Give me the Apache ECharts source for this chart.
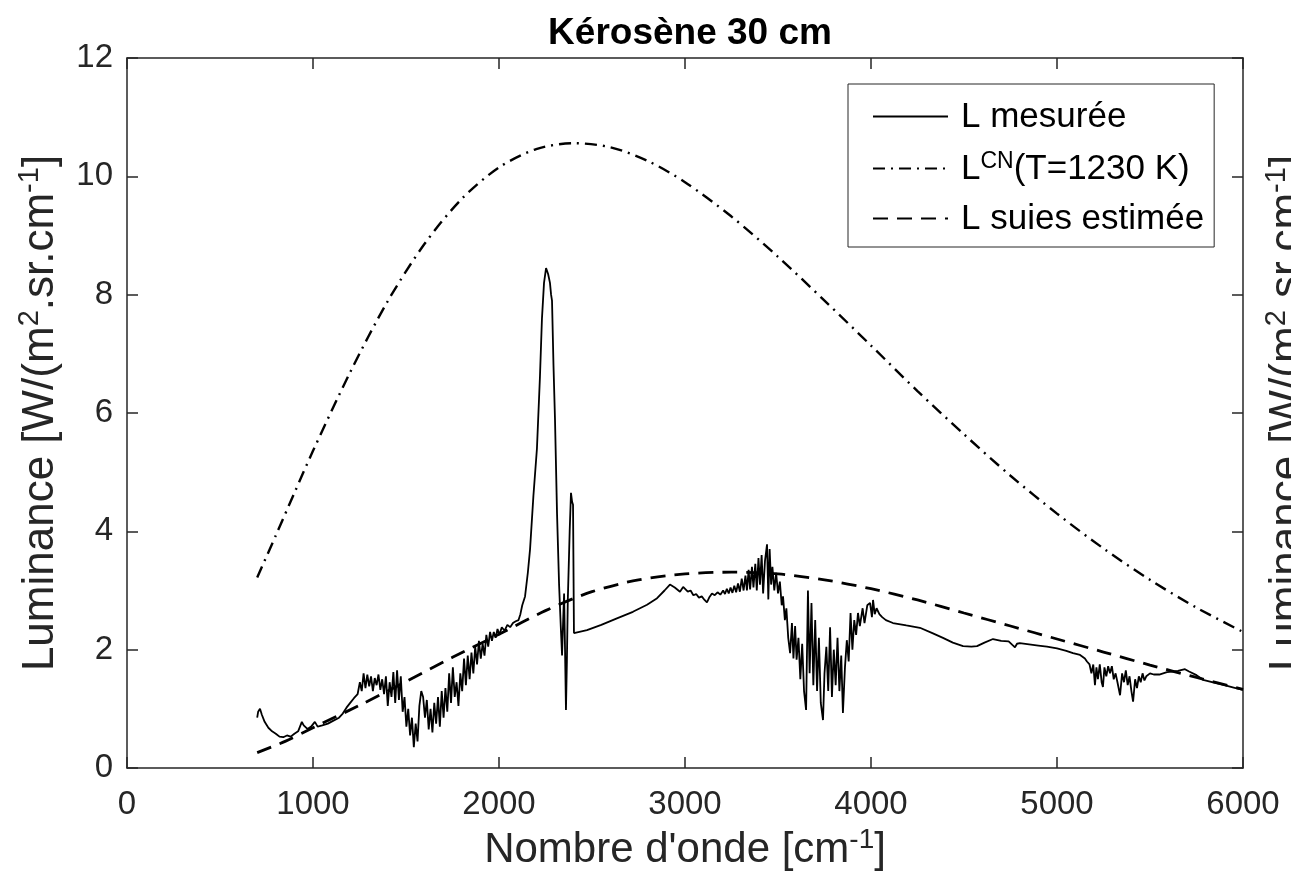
<!DOCTYPE html>
<html>
<head>
    <meta charset="utf-8" />
    <title>Kérosène 30 cm</title>
    <script type="text/javascript" src="https://cdn.jsdelivr.net/npm/echarts@6/dist/echarts.min.js"></script>
    <style>
        html, body { margin: 0; padding: 0; background: #fff; }
    </style>
</head>
<body>
<div id="main" style="width: 1291px;height:895px;"></div>
<script type="text/javascript">
    // axes
    var xTicks = [0, 1000, 2000, 3000, 4000, 5000, 6000];
    var yTicks = [0, 2, 4, 6, 8, 10, 12];

    // L mesurée
    var measuredX = [700, 705, 715, 725, 740, 760, 780, 800, 820, 840, 860, 880, 900, 920, 940, 950, 970, 990, 1010, 1025, 1050, 1080, 1110, 1140, 1160, 1180, 1200, 1220, 1240,
        1252, 1262, 1272, 1282, 1292, 1302, 1312, 1322, 1332, 1342, 1352, 1362, 1372, 1382, 1392, 1402, 1412, 1422, 1432, 1442, 1452, 1462, 1472, 1482, 1492,
        1502, 1512, 1522, 1532, 1542, 1552, 1562, 1572, 1582, 1592, 1602, 1612, 1622, 1632, 1642, 1652, 1662, 1672, 1682, 1692, 1702, 1712, 1722, 1732, 1742,
        1752, 1762, 1772, 1782, 1792, 1802, 1812, 1822, 1832, 1842, 1852, 1862, 1872, 1882, 1892, 1902, 1912, 1922, 1932, 1942, 1952, 1962, 1972, 1982, 1992,
        2002, 2015, 2030, 2045, 2060, 2075, 2090, 2105, 2115,
        2125, 2140, 2155, 2167, 2185, 2204, 2220, 2231, 2242, 2253, 2264, 2274, 2280, 2285, 2293, 2301, 2312, 2323, 2332, 2339, 2345, 2350, 2355, 2360, 2365,
        2370, 2380, 2387, 2393, 2398, 2403, 2473, 2550, 2634, 2720, 2796, 2850, 2890, 2919, 2945, 2973, 2990, 3000, 3015, 3030, 3045, 3060, 3075, 3090, 3105,
        3118, 3130, 3145, 3160, 3175, 3190, 3205, 3215, 3225, 3235, 3245, 3255, 3265, 3275, 3285, 3295, 3305, 3315, 3325, 3333, 3342, 3350, 3360, 3368, 3378,
        3386, 3395, 3403, 3412, 3420, 3430, 3441, 3448, 3455, 3463, 3470, 3480, 3490, 3500, 3510, 3520, 3527, 3537, 3545, 3555, 3565, 3575, 3583, 3592, 3600,
        3610, 3620, 3630, 3640, 3651, 3661, 3670, 3680, 3690, 3700, 3710, 3720, 3730, 3742, 3750, 3760, 3770, 3780, 3790, 3800, 3810, 3820, 3830, 3840, 3849,
        3860, 3870, 3880, 3890, 3900, 3910, 3920, 3930, 3940, 3955, 3965, 3980, 3995, 4005, 4011, 4020, 4030, 4045, 4060, 4080, 4118, 4190, 4263, 4330, 4387,
        4440, 4495, 4540, 4570, 4610, 4656, 4700, 4740, 4760, 4774, 4785, 4800, 4850, 4900, 4946, 5000, 5050, 5086, 5124, 5150, 5161, 5175, 5185, 5195, 5204,
        5212, 5220, 5230, 5240, 5247, 5255, 5265, 5275, 5285, 5295, 5305, 5315, 5325, 5339, 5350, 5360, 5370, 5380, 5390, 5400, 5409, 5420, 5430, 5440, 5450,
        5460, 5470, 5480, 5500, 5520, 5550, 5591, 5620, 5650, 5688, 5710, 5750, 5785, 5850, 5900, 5950, 6000];
    var measuredY = [0.85, 0.95, 1.0, 0.9, 0.78, 0.68, 0.62, 0.58, 0.53, 0.52, 0.55, 0.53, 0.58, 0.62, 0.78, 0.72, 0.66, 0.70, 0.78, 0.70, 0.72, 0.75, 0.80, 0.85, 0.92, 1.02, 1.10, 1.18, 1.25,
        1.45, 1.30, 1.60, 1.35, 1.58, 1.38, 1.55, 1.30, 1.52, 1.40, 1.58, 1.32, 1.50, 1.25, 1.55, 1.05, 1.45, 1.20, 1.62, 1.10, 1.65, 1.15, 1.55, 0.95, 1.20,
        0.70, 1.00, 0.55, 0.85, 0.35, 0.75, 0.45, 1.05, 1.30, 1.20, 0.85, 1.15, 0.65, 1.00, 0.60, 1.10, 0.75, 1.20, 0.70, 1.30, 0.85, 1.35, 0.95, 1.60, 1.10,
        1.70, 1.20, 1.45, 1.05, 1.60, 1.30, 1.85, 1.40, 1.90, 1.50, 1.95, 1.60, 2.05, 1.75, 2.15, 1.85, 2.10, 1.90, 2.25, 2.05, 2.30, 2.15, 2.30, 2.20, 2.35,
        2.25, 2.38, 2.32, 2.42, 2.38, 2.45, 2.48, 2.50, 2.60,
        2.75, 2.90, 3.30, 3.70, 4.60, 5.40, 6.60, 7.60, 8.20, 8.45, 8.35, 8.20, 8.00, 7.90, 6.80, 5.90, 4.30, 3.10, 2.40, 1.90, 2.50, 2.95, 2.00, 0.98, 1.80,
        2.85, 4.00, 4.65, 4.50, 4.45, 2.28, 2.33, 2.42, 2.53, 2.64, 2.76, 2.87, 3.00, 3.10, 3.05, 2.98, 3.06, 3.08, 2.98, 3.00, 2.92, 2.94, 2.88, 2.90, 2.84,
        2.80, 2.88, 2.95, 2.92, 2.97, 2.93, 3.00, 2.94, 3.03, 2.95, 3.05, 2.96, 3.08, 2.97, 3.12, 2.98, 3.20, 3.00, 3.25, 3.00, 3.35, 3.02, 3.40, 3.05, 3.45,
        3.00, 3.55, 3.10, 3.60, 2.95, 3.50, 3.78, 2.85, 3.70, 3.10, 3.40, 3.00, 3.30, 2.95, 3.15, 2.75, 2.90, 2.50, 2.70, 2.20, 1.94, 2.45, 1.85, 2.40, 1.83,
        2.20, 1.50, 2.10, 1.30, 0.98, 3.00, 1.60, 2.79, 1.40, 2.50, 1.30, 2.20, 1.10, 0.81, 1.60, 2.05, 1.30, 2.38, 1.20, 2.00, 1.40, 2.20, 1.30, 1.90, 0.93,
        1.70, 2.16, 1.80, 2.62, 2.00, 2.50, 2.25, 2.62, 2.40, 2.70, 2.45, 2.75, 2.79, 2.55, 2.84, 2.60, 2.70, 2.60, 2.55, 2.50, 2.45, 2.41, 2.37, 2.28, 2.20,
        2.12, 2.06, 2.05, 2.06, 2.12, 2.18, 2.15, 2.14, 2.08, 2.04, 2.10, 2.11, 2.09, 2.07, 2.05, 2.02, 1.98, 1.94, 1.91, 1.85, 1.80, 1.75, 1.60, 1.75, 1.40,
        1.70, 1.50, 1.75, 1.45, 1.37, 1.70, 1.55, 1.72, 1.60, 1.72, 1.50, 1.60, 1.45, 1.23, 1.60, 1.45, 1.65, 1.40, 1.55, 1.30, 1.12, 1.50, 1.35, 1.55, 1.45,
        1.60, 1.48, 1.55, 1.60, 1.58, 1.58, 1.62, 1.63, 1.64, 1.67, 1.63, 1.57, 1.49, 1.44, 1.40, 1.36, 1.32];

    // L CN (T=1230 K)
    var cnX = [700, 800, 900, 1000, 1200, 1400, 1600, 1800, 2000, 2200, 2400, 2600, 2800, 3000, 3250, 3500, 3750, 4000, 4250, 4500, 4750, 5000, 5250, 5500, 5750, 6000];
    var cnY = [3.22, 3.93, 4.65, 5.36, 6.69, 7.88, 8.86, 9.62, 10.15, 10.46, 10.56, 10.49, 10.26, 9.90, 9.32, 8.64, 7.90, 7.14, 6.37, 5.64, 4.94, 4.30, 3.71, 3.18, 2.71, 2.30];

    // L suies estimée
    var sootX = [700, 850, 1000, 1250, 1500, 1750, 2000, 2250, 2500, 2750, 3000, 3250, 3500, 3750, 4000, 4250, 4500, 4750, 5000, 5250, 5500, 5750, 6000];
    var sootY = [0.26, 0.45, 0.68, 1.06, 1.46, 1.87, 2.26, 2.66, 2.98, 3.18, 3.28, 3.31, 3.28, 3.18, 3.03, 2.84, 2.62, 2.40, 2.18, 1.96, 1.74, 1.53, 1.33];

    function pairs(xs, ys) {
        return xs.map(function (x, i) { return [x, ys[i]]; });
    }

    var font = 'Liberation Sans, Arial, Helvetica, sans-serif';
    var ink = '#262626';
    var yName = '{a|Luminance [W/(m}{s|2}{a|.sr.cm}{s|-1}{a|]}';
    var yRich = {
        a: { fontSize: 44, fontFamily: font, color: ink, lineHeight: 48, verticalAlign: 'bottom' },
        s: { fontSize: 29, fontFamily: font, color: ink, lineHeight: 29, verticalAlign: 'top' }
    };
    var xRich = {
        a: { fontSize: 42, fontFamily: font, color: ink, lineHeight: 46, verticalAlign: 'bottom' },
        s: { fontSize: 28, fontFamily: font, color: ink, lineHeight: 28, verticalAlign: 'top' }
    };
    var axisLine = { onZero: false, lineStyle: { color: ink, width: 1.5 } };
    var axisTick = { show: true, inside: true, length: 11, lineStyle: { color: ink, width: 1.5 } };

    var myChart = echarts.init(document.getElementById('main'));
    var option = {
        animation: false,
        backgroundColor: '#fff',
        title: {
            text: 'Kérosène 30 cm',
            left: 685,
            top: 10,
            textAlign: 'center',
            textStyle: { fontFamily: font, fontSize: 37, fontWeight: 'bold', color: '#000' }
        },
        grid: { left: 127, right: 48, top: 58, bottom: 127, outerBoundsMode: 'none' },
        legend: {
            orient: 'vertical',
            left: 848,
            top: 84,
            itemWidth: 75,
            itemHeight: 14,
            itemGap: 15,
            padding: [16, 10, 10, 24],
            borderColor: ink,
            borderWidth: 1,
            backgroundColor: '#fff',
            itemStyle: { opacity: 0 },
            data: ['L mesurée', 'L CN', 'L suies estimée'],
            formatter: function (name) {
                if (name === 'L CN') return '{a|L}{s|CN}{a|(T=1230 K)}';
                return '{a|' + name + '}';
            },
            textStyle: {
                padding: [0, 0, 0, 8],
                rich: {
                    a: { fontSize: 35, fontFamily: font, color: '#000', lineHeight: 37, verticalAlign: 'bottom' },
                    s: { fontSize: 23, fontFamily: font, color: '#000', lineHeight: 23, verticalAlign: 'top' }
                }
            }
        },
        xAxis: [{
            type: 'value',
            min: xTicks[0],
            max: xTicks[xTicks.length - 1],
            interval: 1000,
            name: '{a|Nombre d\'onde [cm}{s|-1}{a|]}',
            nameLocation: 'middle',
            nameGap: 44,
            nameTextStyle: { verticalAlign: 'top', rich: xRich },
            axisLine: axisLine,
            axisTick: axisTick,
            axisLabel: { margin: 20, fontSize: 33, fontFamily: font, color: ink, formatter: function (v) { return String(v); } },
            splitLine: { show: false }
        }, {
            type: 'value',
            position: 'top',
            min: xTicks[0],
            max: xTicks[xTicks.length - 1],
            interval: 1000,
            axisLine: axisLine,
            axisTick: axisTick,
            axisLabel: { show: false },
            splitLine: { show: false }
        }],
        yAxis: [{
            type: 'value',
            min: yTicks[0],
            max: yTicks[yTicks.length - 1],
            interval: 2,
            name: yName,
            nameLocation: 'middle',
            nameRotate: 90,
            nameGap: 64,
            nameTextStyle: { rich: yRich },
            axisLine: { show: true, onZero: false, lineStyle: axisLine.lineStyle },
            axisTick: axisTick,
            axisLabel: { margin: 14, fontSize: 33, fontFamily: font, color: ink },
            splitLine: { show: false }
        }, {
            type: 'value',
            position: 'right',
            min: yTicks[0],
            max: yTicks[yTicks.length - 1],
            interval: 2,
            name: yName,
            nameLocation: 'middle',
            nameRotate: 90,
            nameGap: 19,
            nameTextStyle: { rich: yRich },
            axisLine: { show: true, onZero: false, lineStyle: axisLine.lineStyle },
            axisTick: axisTick,
            axisLabel: { show: false },
            splitLine: { show: false }
        }],
        series: [
            {
                name: 'L mesurée',
                type: 'line',
                symbol: 'none',
                data: pairs(measuredX, measuredY),
                lineStyle: { color: '#000', width: 1.8 },
                itemStyle: { color: '#000' }
            },
            {
                name: 'L CN',
                type: 'line',
                symbol: 'none',
                smooth: 0.3,
                data: pairs(cnX, cnY),
                lineStyle: { color: '#000', width: 2.4, type: [12, 6, 2, 6] },
                itemStyle: { color: '#000' }
            },
            {
                name: 'L suies estimée',
                type: 'line',
                symbol: 'none',
                smooth: 0.3,
                data: pairs(sootX, sootY),
                lineStyle: { color: '#000', width: 2.8, type: [15, 9] },
                itemStyle: { color: '#000' }
            }
        ]
    };
    myChart.setOption(option);
</script>
</body>
</html>
